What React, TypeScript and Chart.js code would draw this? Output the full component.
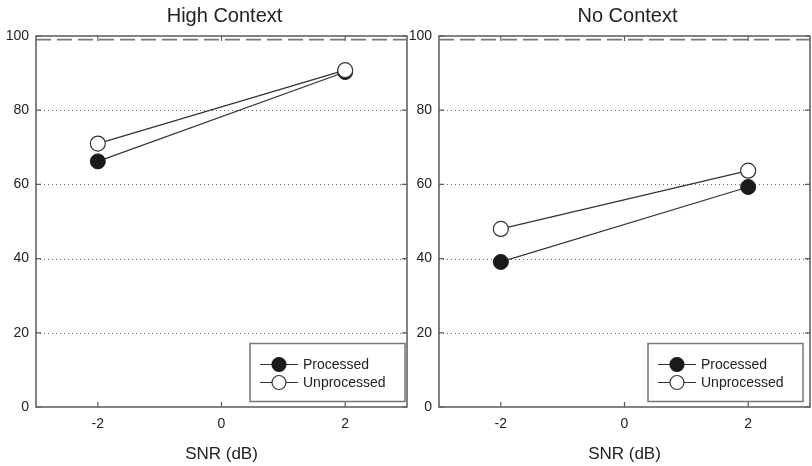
import React, { useEffect, useRef } from "react";
import { Chart, registerables } from "chart.js";

Chart.register(...registerables);

const snrLevels = [-2, 2];
const highProcessed = [66.2, 90.3];
const highUnprocessed = [71.0, 90.8];
const noProcessed = [39.1, 59.3];
const noUnprocessed = [48.0, 63.7];
const ceilingLevel = 99;
const xTicks = [-2, 0, 2];
const yTicks = [0, 20, 40, 60, 80, 100];
const gridLevels = [20, 40, 60, 80];
const panelTitles = ["High Context", "No Context"];
const seriesNames = ["Processed", "Unprocessed"];
const xAxisTitle = "SNR (dB)";

const FONT = '"Liberation Sans", Arial, Helvetica, sans-serif';
const TEXT = "#222";
const FRAME = "#5a5a5a";

const drawMarker = (ctx: CanvasRenderingContext2D, x: number, y: number, filled: boolean) => {
  ctx.beginPath();
  ctx.arc(x, y, 7, 0, Math.PI * 2);
  ctx.fillStyle = filled ? "#1a1a1a" : "#ffffff";
  ctx.fill();
  ctx.lineWidth = 1.2;
  ctx.strokeStyle = filled ? "#1a1a1a" : "#333";
  ctx.stroke();
};

const framePlugin = {
  id: "frame",
  beforeDatasetsDraw(chart: any, _args: any, opts: any) {
    const { ctx, chartArea: a, scales } = chart;
    const x = scales.x;
    const y = scales.y;
    ctx.save();
    ctx.strokeStyle = "#666";
    ctx.lineWidth = 1;
    ctx.setLineDash([1, 3]);
    for (const v of gridLevels) {
      const py = Math.round(y.getPixelForValue(v)) + 0.5;
      ctx.beginPath();
      ctx.moveTo(a.left, py);
      ctx.lineTo(a.right, py);
      ctx.stroke();
    }
    ctx.setLineDash([]);
    ctx.strokeStyle = FRAME;
    ctx.lineWidth = 1.2;
    for (const v of xTicks) {
      const px = x.getPixelForValue(v);
      ctx.beginPath();
      ctx.moveTo(px, a.top);
      ctx.lineTo(px, a.top + 5);
      ctx.moveTo(px, a.bottom);
      ctx.lineTo(px, a.bottom - 5);
      ctx.stroke();
    }
    for (const v of yTicks) {
      const py = y.getPixelForValue(v);
      ctx.beginPath();
      ctx.moveTo(a.left, py);
      ctx.lineTo(a.left + 5, py);
      ctx.moveTo(a.right, py);
      ctx.lineTo(a.right - 5, py);
      ctx.stroke();
    }
    ctx.lineWidth = 1.5;
    ctx.strokeRect(a.left, a.top, a.right - a.left, a.bottom - a.top);
    ctx.fillStyle = TEXT;
    ctx.font = `20px ${FONT}`;
    ctx.textAlign = "center";
    ctx.textBaseline = "alphabetic";
    ctx.fillText(opts.text, (a.left + a.right) / 2 + 3, 22);
    ctx.restore();
  },
  afterDraw(chart: any, _args: any, opts: any) {
    const { ctx, chartArea: a } = chart;
    const w = 155;
    const h = 58;
    const right = a.right - opts.legendGap;
    const left = right - w;
    const bottom = a.bottom - 5.5;
    const top = bottom - h;
    ctx.save();
    ctx.fillStyle = "#fff";
    ctx.fillRect(left, top, w, h);
    ctx.strokeStyle = "#777";
    ctx.lineWidth = 1.5;
    ctx.strokeRect(left, top, w, h);
    seriesNames.forEach((name, i) => {
      const ry = top + 21 + i * 18;
      ctx.beginPath();
      ctx.strokeStyle = "#333";
      ctx.lineWidth = 1.1;
      ctx.moveTo(left + 10, ry);
      ctx.lineTo(left + 48, ry);
      ctx.stroke();
      drawMarker(ctx, left + 29, ry, i === 0);
      ctx.fillStyle = TEXT;
      ctx.font = `14px ${FONT}`;
      ctx.textAlign = "left";
      ctx.textBaseline = "middle";
      ctx.fillText(name, left + 53, ry + 0.5);
    });
    ctx.restore();
  },
};

type PanelProps = {
  title: string;
  processed: number[];
  unprocessed: number[];
  left: number;
  width: number;
  yAxisWidth: number;
  padRight: number;
  legendGap: number;
};

function Panel(p: PanelProps) {
  const ref = useRef<HTMLCanvasElement | null>(null);
  useEffect(() => {
    if (!ref.current) return;
    const pts = (vals: number[]) => snrLevels.map((s, i) => ({ x: s, y: vals[i] }));
    const chart = new Chart(ref.current, {
      type: "scatter",
      data: {
        datasets: [
          {
            label: "ceiling",
            data: [
              { x: -3, y: ceilingLevel },
              { x: 3, y: ceilingLevel },
            ],
            showLine: true,
            borderColor: "#777",
            borderWidth: 1.8,
            borderDash: [15, 6],
            pointRadius: 0,
            order: 3,
          },
          {
            label: seriesNames[0],
            data: pts(p.processed),
            showLine: true,
            borderColor: "#333",
            borderWidth: 1.2,
            pointRadius: 7.5,
            pointBackgroundColor: "#1a1a1a",
            pointBorderColor: "#1a1a1a",
            pointBorderWidth: 1,
            order: 2,
          },
          {
            label: seriesNames[1],
            data: pts(p.unprocessed),
            showLine: true,
            borderColor: "#333",
            borderWidth: 1.2,
            pointRadius: 7.5,
            pointBackgroundColor: "#ffffff",
            pointBorderColor: "#333",
            pointBorderWidth: 1.2,
            order: 1,
          },
        ],
      },
      options: {
        animation: false,
        responsive: false,
        events: [],
        layout: {
          autoPadding: false,
          padding: { left: 0, right: p.padRight, top: 36, bottom: 0 },
        },
        plugins: {
          legend: { display: false },
          tooltip: { enabled: false },
          title: { display: false },
          frame: { text: p.title, legendGap: p.legendGap },
        } as any,
        scales: {
          x: {
            type: "linear",
            min: -3,
            max: 3,
            grid: { display: false, drawTicks: false, tickLength: 0 },
            border: { display: false },
            afterBuildTicks: (s: any) => {
              s.ticks = xTicks.map((v) => ({ value: v }));
            },
            afterFit: (s: any) => {
              s.height = 59;
              s.paddingLeft = 0;
              s.paddingRight = 0;
            },
            ticks: {
              padding: 9,
              color: TEXT,
              font: { family: FONT, size: 14 },
              maxRotation: 0,
            },
            title: {
              display: true,
              text: xAxisTitle,
              color: TEXT,
              font: { family: FONT, size: 17 },
              padding: { top: 0, bottom: 1 },
            },
          },
          y: {
            min: 0,
            max: 100,
            grid: { display: false, drawTicks: false, tickLength: 0 },
            border: { display: false },
            afterBuildTicks: (s: any) => {
              s.ticks = yTicks.map((v) => ({ value: v }));
            },
            afterFit: (s: any) => {
              s.width = p.yAxisWidth;
              s.paddingTop = 0;
              s.paddingBottom = 0;
            },
            ticks: {
              padding: 7,
              color: TEXT,
              font: { family: FONT, size: 14 },
            },
          },
        },
      },
      plugins: [framePlugin as any],
    });
    return () => chart.destroy();
  }, []);
  return (
    <canvas
      ref={ref}
      width={p.width}
      height={466}
      style={{ position: "absolute", left: p.left, top: 0, width: p.width, height: 466 }}
    />
  );
}

export default function App() {
  return (
    <div
      style={{
        position: "absolute",
        left: 0,
        top: 0,
        width: 812,
        height: 466,
        background: "#fff",
        overflow: "hidden",
      }}
    >
      <Panel
        title={panelTitles[0]}
        processed={highProcessed}
        unprocessed={highUnprocessed}
        left={0}
        width={410}
        yAxisWidth={36}
        padRight={3}
        legendGap={2}
      />
      <Panel
        title={panelTitles[1]}
        processed={noProcessed}
        unprocessed={noUnprocessed}
        left={402}
        width={410}
        yAxisWidth={37}
        padRight={2}
        legendGap={7}
      />
    </div>
  );
}
